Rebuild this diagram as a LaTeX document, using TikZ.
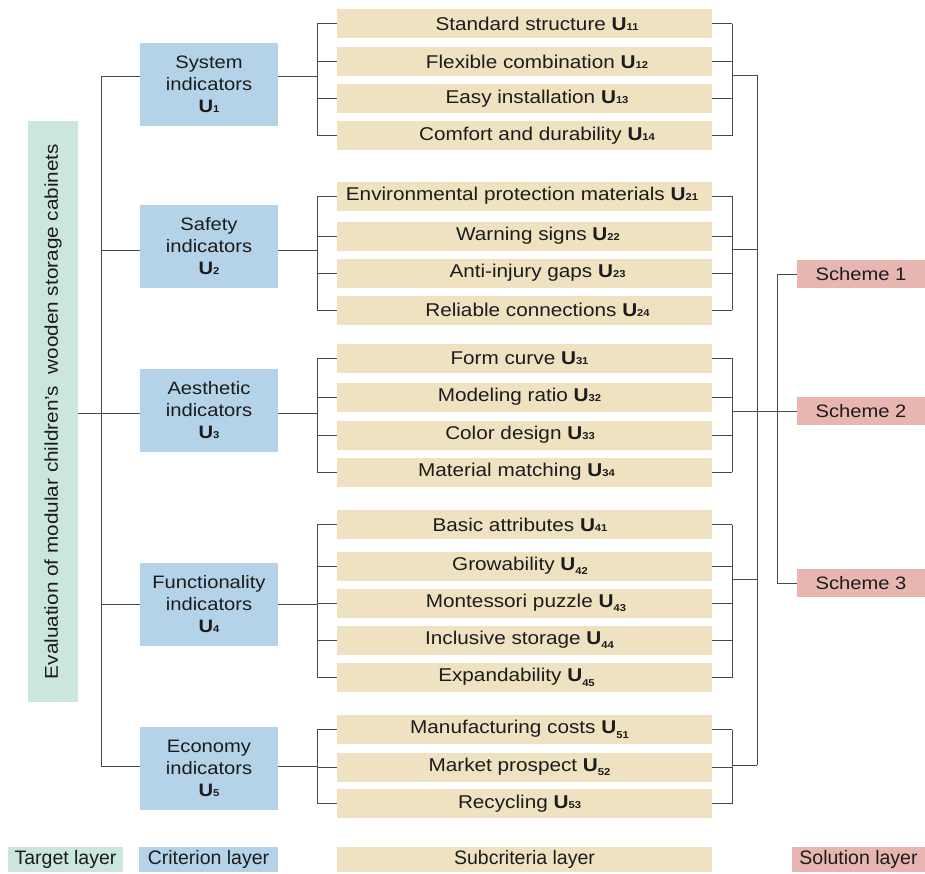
\documentclass[tikz,border=0pt]{standalone}
\usepackage{fontspec}
\setmainfont{Liberation Sans}[FakeStretch=1.12]
\newfontfamily\legfont{Liberation Sans}
\definecolor{tgtc}{HTML}{CBE6DD}
\definecolor{critc}{HTML}{B4D3E8}
\definecolor{subc}{HTML}{EEE2C0}
\definecolor{solc}{HTML}{E8B6B1}
\definecolor{linec}{HTML}{4A4A4A}
\definecolor{txtc}{HTML}{1C1C1C}
\newcommand\Ua[1]{\textbf{U}{\fontsize{10}{10}\selectfont\bfseries #1}}
\newcommand\Ub[1]{\textbf{U}\raisebox{-4.5pt}{\fontsize{10}{10}\selectfont\bfseries #1}}
\newcommand\sh[1]{\hspace*{#1pt}}
\begin{document}
\begin{tikzpicture}[x=1pt,y=-1pt,
  every node/.style={text=txtc},
  tgt/.style={fill=tgtc,inner sep=0pt,minimum width=50pt,minimum height=581pt},
  crit/.style={fill=critc,inner sep=0pt,minimum width=138pt,minimum height=83pt,align=center,font=\fontsize{18}{22}\selectfont},
  subbox/.style={fill=subc,inner sep=0pt,minimum width=375pt,minimum height=29pt,font=\fontsize{18.5}{22}\selectfont},
  sol/.style={fill=solc,inner sep=0pt,minimum width=128pt,minimum height=28pt,font=\fontsize{18}{22}\selectfont},
  leg/.style={inner sep=0pt,minimum height=25pt,font=\legfont\fontsize{19.5}{22}\selectfont},
  conn/.style={draw=linec,line width=0.9pt}]
\useasboundingbox (0,0) rectangle (925,873);

% target
\node[tgt] (T) at (53,411.5) {};
\node[rotate=90,font=\fontsize{18.5}{22}\selectfont] (Tt) at (T.center) {Evaluation of modular children's\ \ wooden storage cabinets};

% criteria
\node[crit] (C1) at (209,84) {System\\indicators\\\Ua{1}};
\node[crit] (C2) at (209,246) {Safety\\indicators\\\Ua{2}};
\node[crit] (C3) at (209,410.5) {Aesthetic\\indicators\\\Ua{3}};
\node[crit] (C4) at (209,604.5) {Functionality\\indicators\\\Ua{4}};
\node[crit] (C5) at (209,768.5) {Economy\\indicators\\\Ua{5}};

% subcriteria
\node[subbox] (S11) at (524.5,23.5) {\sh{25}Standard structure \Ua{11}};
\node[subbox] (S12) at (524.5,61.5) {\sh{25}Flexible combination \Ua{12}};
\node[subbox] (S13) at (524.5,98.5) {\sh{25}Easy installation \Ua{13}};
\node[subbox] (S14) at (524.5,135.5) {\sh{25}Comfort and durability \Ua{14}};

\node[subbox] (S21) at (524.5,196) {\sh{-5}Environmental protection materials \Ua{21}};
\node[subbox] (S22) at (524.5,236) {\sh{27}Warning signs \Ua{22}};
\node[subbox] (S23) at (524.5,273) {\sh{26}Anti-injury gaps \Ua{23}};
\node[subbox] (S24) at (524.5,310) {\sh{26}Reliable connections \Ua{24}};

\node[subbox] (S31) at (524.5,358) {\sh{-10}Form curve \Ua{31}};
\node[subbox] (S32) at (524.5,397) {\sh{-10}Modeling ratio \Ua{32}};
\node[subbox] (S33) at (524.5,435) {\sh{-9}Color design \Ua{33}};
\node[subbox] (S34) at (524.5,472) {\sh{-16}Material matching \Ua{34}};

\node[subbox] (S41) at (524.5,524.5) {\sh{-9}Basic attributes \Ua{41}};
\node[subbox] (S42) at (524.5,566) {\sh{-9}Growability \Ub{42}};
\node[subbox] (S43) at (524.5,603) {\sh{3}Montessori puzzle \Ub{43}};
\node[subbox] (S44) at (524.5,640) {\sh{-10}Inclusive storage \Ub{44}};
\node[subbox] (S45) at (524.5,677.5) {\sh{-16}Expandability \Ub{45}};

\node[subbox] (S51) at (524.5,729.5) {\sh{-10}Manufacturing costs \Ub{51}};
\node[subbox] (S52) at (524.5,767) {\sh{-10}Market prospect \Ub{52}};
\node[subbox] (S53) at (524.5,803.5) {\sh{-10}Recycling \Ua{53}};

% solutions
\node[sol] (P1) at (861,274) {Scheme 1};
\node[sol] (P2) at (861,411) {Scheme 2};
\node[sol] (P3) at (861,583) {Scheme 3};

% legend
\node[leg,fill=tgtc,minimum width=115pt] (L1) at (65.5,859.5) {Target layer};
\node[leg,fill=critc,minimum width=139pt] (L2) at (208.5,859.5) {Criterion layer};
\node[leg,fill=subc,minimum width=375pt] (L3) at (524.5,859.5) {Subcriteria layer};
\node[leg,fill=solc,minimum width=133pt] (L4) at (858.5,859.5) {Solution layer};

% connector coordinates
\coordinate (b1) at (101,76);
\coordinate (b2) at (101,250);
\coordinate (b3) at (101,413);
\coordinate (b4) at (101,604);
\coordinate (b5) at (101,766);
\coordinate (r1) at (317,76);
\coordinate (r2) at (317,250);
\coordinate (r3) at (317,413);
\coordinate (r4) at (317,604);
\coordinate (r5) at (317,766);
\coordinate (g1) at (732,75);
\coordinate (g2) at (732,249);
\coordinate (g3) at (732,411);
\coordinate (g4) at (732,579);
\coordinate (g5) at (732,765);
\coordinate (o1) at (757,75);
\coordinate (o2) at (757,249);
\coordinate (o4) at (757,579);
\coordinate (o5) at (757,765);
\coordinate (q) at (777,0);

% target to criteria
\draw[conn] (b1) -- (b5);
\draw[conn] (T.east |- b3) -- (C3.west |- b3);
\foreach \i in {1,2,4,5} {\draw[conn] (b\i) -- (C\i.west |- b\i);}
\foreach \i in {1,...,5} {\draw[conn] (C\i.east |- r\i) -- (r\i);}

% criteria to subcriteria (left buses)
\draw[conn] (S11.west -| r1) -- (S14.west -| r1);
\draw[conn] (S21.west -| r2) -- (S24.west -| r2);
\draw[conn] (S31.west -| r3) -- (S34.west -| r3);
\draw[conn] (S41.west -| r4) -- (S45.west -| r4);
\draw[conn] (S51.west -| r5) -- (S53.west -| r5);
\foreach \i/\n in {1/4,2/4,3/4,4/5,5/3} {
  \foreach \j in {1,...,\n} {
    \draw[conn] (S\i\j.west -| r\i) -- (S\i\j.west);
    \draw[conn] (S\i\j.east) -- (S\i\j.east -| g\i);
  }
}

% right buses
\draw[conn] (S11.east -| g1) -- (S14.east -| g1);
\draw[conn] (S21.east -| g2) -- (S24.east -| g2);
\draw[conn] (S31.east -| g3) -- (S34.east -| g3);
\draw[conn] (S41.east -| g4) -- (S45.east -| g4);
\draw[conn] (S51.east -| g5) -- (S53.east -| g5);
\draw[conn] (g1) -- (o1);
\draw[conn] (g2) -- (o2);
\draw[conn] (g4) -- (o4);
\draw[conn] (g5) -- (o5);
\draw[conn] (o1) -- (o5);
\draw[conn] (g3) -- (P2.west);

% scheme bus
\draw[conn] (P1.west -| q) -- (P3.west -| q);
\draw[conn] (P1.west -| q) -- (P1.west);
\draw[conn] (P3.west -| q) -- (P3.west);
\end{tikzpicture}
\end{document}
